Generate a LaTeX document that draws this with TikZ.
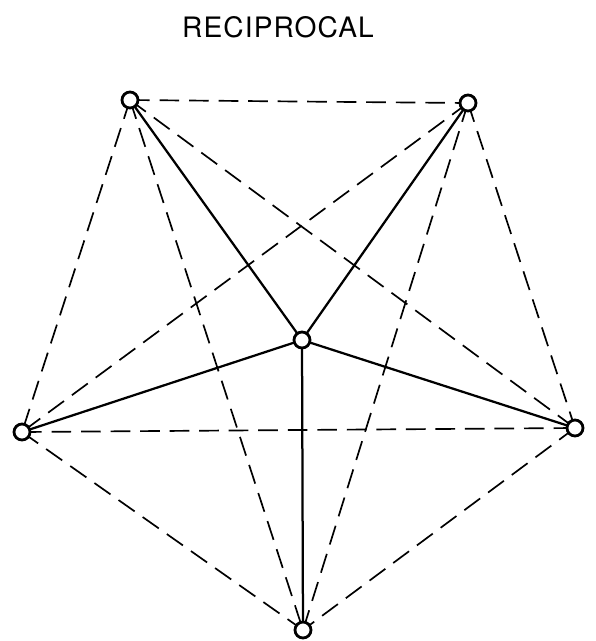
\documentclass[tikz,border=0pt]{standalone}
\usepackage{fontspec}
\setmainfont{TeX Gyre Heros}[LetterSpace=4]
\begin{document}
\begin{tikzpicture}[x=0.025cm,y=-0.025cm,
  pt/.style={circle,draw,line width=2pt,fill=white,inner sep=0pt,minimum size=0.4cm},
  spoke/.style={line width=1.6pt},
  link/.style={line width=1.2pt,dash pattern=on 14pt off 7pt}]
  \useasboundingbox (0,0) rectangle (595,641);
  \node at (278,27) {\fontsize{20}{24}\selectfont RECIPROCAL};
  % points
  \coordinate (tl) at (130,100);
  \coordinate (tr) at (468,103);
  \coordinate (l) at (22,432);
  \coordinate (r) at (575,428);
  \coordinate (b) at (303,630);
  \coordinate (c) at (302,340);
  % dashed links between outer points
  \foreach \u/\v in {tl/tr,tl/l,tl/r,tl/b,tr/l,tr/r,tr/b,l/r,l/b,r/b}
    \draw[link] (\u) -- (\v);
  % solid spokes
  \foreach \u in {tl,tr,l,r,b}
    \draw[spoke] (c) -- (\u);
  \foreach \u in {tl,tr,l,r,b,c}
    \node[pt] (n\u) at (\u) {};
\end{tikzpicture}
\end{document}
